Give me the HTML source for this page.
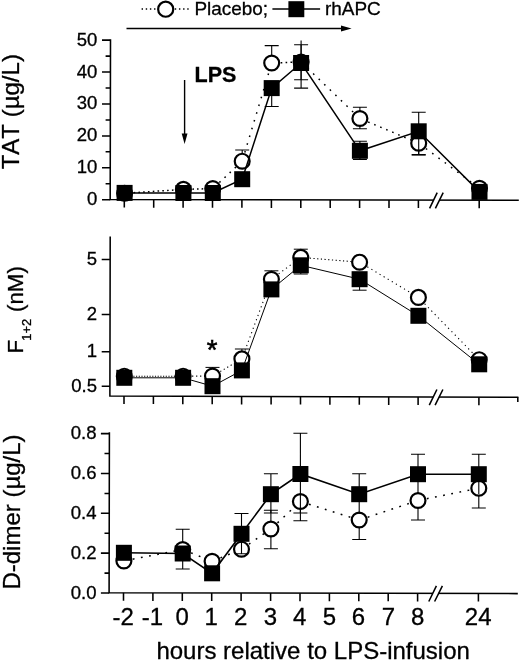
<!DOCTYPE html>
<html><head><meta charset="utf-8"><title>Figure</title>
<style>
html,body{margin:0;padding:0;background:#fff}
svg{display:block}
text{stroke:#000;stroke-width:0.3px;font-kerning:none;font-family:"Liberation Sans",Arial,Helvetica,sans-serif;fill:#000}
</style></head><body>
<svg width="520" height="661" viewBox="0 0 520 661">
<rect width="520" height="661" fill="#fff"/>
<path d="M110.5 39.3L110.2 199.6L518.8 200.3" fill="none" stroke="#000" stroke-width="1.55" stroke-linejoin="miter"/>
<rect x="433.6" y="198.2" width="5.6" height="4" fill="#fff"/>
<path d="M429.6 208.3L437.2 192.7M435.4 208.3L443.2 192.7" stroke="#000" stroke-width="1.55" fill="none"/>
<path d="M124.3 199.6v8M153.7 199.7v8M183.1 199.7v8M212.5 199.8v8M241.9 199.8v8M271.4 199.9v8M300.8 199.9v8M330.2 200.0v8M359.6 200.0v8M389.0 200.1v8M418.4 200.1v8M479.2 200.2v8M110.2 199.7h-8.2M110.2 167.8h-8.2M110.2 135.9h-8.2M110.2 103.9h-8.2M110.2 72.0h-8.2M110.2 40.1h-8.2M110.2 183.7h-4.6M110.2 151.8h-4.6M110.2 119.9h-4.6M110.2 88.0h-4.6M110.2 56.1h-4.6" stroke="#000" stroke-width="1.55" fill="none"/>
<text y="205.3" text-anchor="end" font-size="18.2" transform="translate(97.4 0) scale(1.02 1)">0</text>
<text y="173.4" text-anchor="end" font-size="18.2" transform="translate(97.4 0) scale(1.02 1)">10</text>
<text y="141.5" text-anchor="end" font-size="18.2" transform="translate(97.4 0) scale(1.02 1)">20</text>
<text y="109.5" text-anchor="end" font-size="18.2" transform="translate(97.4 0) scale(1.02 1)">30</text>
<text y="77.6" text-anchor="end" font-size="18.2" transform="translate(97.4 0) scale(1.02 1)">40</text>
<text y="45.7" text-anchor="end" font-size="18.2" transform="translate(97.4 0) scale(1.02 1)">50</text>
<path d="M242.2 150.0V161.2M235.2 150.0h14M271.7 45.6V63.0M264.7 45.6h14M301.1 40.5V88.1M294.1 88.1h14M359.9 107.2V128.8M352.9 107.2h14M352.9 128.8h14M418.7 143.2V155.0M411.7 155.0h14" stroke="#000" stroke-width="1.1" fill="none"/>
<path d="M124.6 193.3L183.4 189.4" fill="none" stroke="#000" stroke-width="1.5" stroke-dasharray="1.6 3.20" stroke-dashoffset="-9"/>
<path d="M183.4 189.4L212.8 188.6" fill="none" stroke="#000" stroke-width="1.5" stroke-dasharray="1.6 3.00" stroke-dashoffset="-9"/>
<path d="M212.8 188.6L242.2 161.2" fill="none" stroke="#000" stroke-width="1.5" stroke-dasharray="1.6 5.40" stroke-dashoffset="-9"/>
<path d="M242.2 161.2L271.7 63.0" fill="none" stroke="#000" stroke-width="1.5" stroke-dasharray="1.6 6.50" stroke-dashoffset="-9"/>
<path d="M271.7 63.0L301.1 62.0" fill="none" stroke="#000" stroke-width="1.5" stroke-dasharray="1.6 3.30" stroke-dashoffset="-9"/>
<path d="M301.1 62.0L359.9 118.5" fill="none" stroke="#000" stroke-width="1.5" stroke-dasharray="1.6 6.10" stroke-dashoffset="-9"/>
<path d="M359.9 118.5L418.7 143.2" fill="none" stroke="#000" stroke-width="1.5" stroke-dasharray="1.6 4.90" stroke-dashoffset="-9"/>
<path d="M418.7 143.2L479.5 188.3" fill="none" stroke="#000" stroke-width="1.5" stroke-dasharray="1.6 6.20" stroke-dashoffset="-9"/>
<circle cx="124.6" cy="193.3" r="7.45" fill="#fff" stroke="#000" stroke-width="2.2"/>
<circle cx="183.4" cy="189.4" r="7.45" fill="#fff" stroke="#000" stroke-width="2.2"/>
<circle cx="212.8" cy="188.6" r="7.45" fill="#fff" stroke="#000" stroke-width="2.2"/>
<circle cx="242.2" cy="161.2" r="7.45" fill="#fff" stroke="#000" stroke-width="2.2"/>
<circle cx="271.7" cy="63.0" r="7.45" fill="#fff" stroke="#000" stroke-width="2.2"/>
<circle cx="301.1" cy="62.0" r="7.45" fill="#fff" stroke="#000" stroke-width="2.2"/>
<circle cx="359.9" cy="118.5" r="7.45" fill="#fff" stroke="#000" stroke-width="2.2"/>
<circle cx="418.7" cy="143.2" r="7.45" fill="#fff" stroke="#000" stroke-width="2.2"/>
<circle cx="479.5" cy="188.3" r="7.45" fill="#fff" stroke="#000" stroke-width="2.2"/>
<path d="M271.7 88.1V106.5M264.7 106.5h14M301.1 44.8V79.8M294.1 44.8h14M294.1 79.8h14M359.9 141.3V159.5M352.9 141.3h14M352.9 159.5h14M418.7 112.2V154.6M411.7 112.2h14M411.7 154.6h14" stroke="#000" stroke-width="1.1" fill="none"/>
<polyline points="124.6,192.9 183.4,193.0 212.8,193.0 242.2,179.2 271.7,88.1 301.1,63.0 359.9,150.8 418.7,131.3 479.5,191.9" fill="none" stroke="#000" stroke-width="1.5"/>
<rect x="116.6" y="184.9" width="16" height="16" fill="#000"/>
<rect x="175.4" y="185.0" width="16" height="16" fill="#000"/>
<rect x="204.8" y="185.0" width="16" height="16" fill="#000"/>
<rect x="234.2" y="171.2" width="16" height="16" fill="#000"/>
<rect x="263.7" y="80.1" width="16" height="16" fill="#000"/>
<rect x="293.1" y="55.0" width="16" height="16" fill="#000"/>
<rect x="351.9" y="142.8" width="16" height="16" fill="#000"/>
<rect x="410.7" y="123.3" width="16" height="16" fill="#000"/>
<rect x="471.5" y="183.9" width="16" height="16" fill="#000"/>
<path d="M110.2 236.4L109.9 396.0L518.4 397.3" fill="none" stroke="#000" stroke-width="1.55" stroke-linejoin="miter"/>
<rect x="433.3" y="395.0" width="5.6" height="4" fill="#fff"/>
<path d="M429.3 405.1L436.9 389.5M435.1 405.1L442.9 389.5" stroke="#000" stroke-width="1.55" fill="none"/>
<path d="M124.0 396.0v8M153.4 396.1v8M182.8 396.2v8M212.2 396.3v8M241.6 396.4v8M271.1 396.5v8M300.5 396.6v8M329.9 396.7v8M359.3 396.8v8M388.7 396.9v8M418.1 397.0v8M478.9 397.2v8M517.8 397.3v4.8M109.9 259.4h-8.2M109.9 314.4h-8.2M109.9 351.7h-8.2M109.9 386.2h-8.2" stroke="#000" stroke-width="1.55" fill="none"/>
<text y="265.0" text-anchor="end" font-size="18.2" transform="translate(97.1 0) scale(1.02 1)">5</text>
<text y="320.0" text-anchor="end" font-size="18.2" transform="translate(97.1 0) scale(1.02 1)">2</text>
<text y="357.3" text-anchor="end" font-size="18.2" transform="translate(97.1 0) scale(1.02 1)">1</text>
<text y="391.8" text-anchor="end" font-size="18.2" transform="translate(97.1 0) scale(1.02 1)">0.5</text>
<path d="M212.5 367.4V376.0M205.5 367.4h14M241.9 349.0V358.9M234.9 349.0h14M271.4 270.8V279.3M264.4 270.8h14M300.8 249.2V257.4M293.8 249.2h14" stroke="#000" stroke-width="1" fill="none"/>
<path d="M124.3 376.2L183.1 376.2" fill="none" stroke="#000" stroke-width="1.1" stroke-dasharray="1.2 1.50" stroke-dashoffset="-9"/>
<path d="M183.1 376.2L212.5 376.0" fill="none" stroke="#000" stroke-width="1.1" stroke-dasharray="1.2 2.80" stroke-dashoffset="-9"/>
<path d="M212.5 376.0L241.9 358.9" fill="none" stroke="#000" stroke-width="1.1" stroke-dasharray="1.2 2.80" stroke-dashoffset="-9"/>
<path d="M241.9 358.9L271.4 279.3" fill="none" stroke="#000" stroke-width="1.1" stroke-dasharray="1.2 3.40" stroke-dashoffset="-9"/>
<path d="M271.4 279.3L300.8 257.4" fill="none" stroke="#000" stroke-width="1.1" stroke-dasharray="1.2 3.40" stroke-dashoffset="-9"/>
<path d="M300.8 257.4L359.6 262.2" fill="none" stroke="#000" stroke-width="1.1" stroke-dasharray="1.2 2.50" stroke-dashoffset="-9"/>
<path d="M359.6 262.2L418.4 297.4" fill="none" stroke="#000" stroke-width="1.1" stroke-dasharray="1.2 3.55" stroke-dashoffset="-9"/>
<path d="M418.4 297.4L479.2 359.7" fill="none" stroke="#000" stroke-width="1.1" stroke-dasharray="1.2 3.60" stroke-dashoffset="-9"/>
<circle cx="124.3" cy="376.2" r="7.45" fill="#fff" stroke="#000" stroke-width="2.2"/>
<circle cx="183.1" cy="376.2" r="7.45" fill="#fff" stroke="#000" stroke-width="2.2"/>
<circle cx="212.5" cy="376.0" r="7.45" fill="#fff" stroke="#000" stroke-width="2.2"/>
<circle cx="241.9" cy="358.9" r="7.45" fill="#fff" stroke="#000" stroke-width="2.2"/>
<circle cx="271.4" cy="279.3" r="7.45" fill="#fff" stroke="#000" stroke-width="2.2"/>
<circle cx="300.8" cy="257.4" r="7.45" fill="#fff" stroke="#000" stroke-width="2.2"/>
<circle cx="359.6" cy="262.2" r="7.45" fill="#fff" stroke="#000" stroke-width="2.2"/>
<circle cx="418.4" cy="297.4" r="7.45" fill="#fff" stroke="#000" stroke-width="2.2"/>
<circle cx="479.2" cy="359.7" r="7.45" fill="#fff" stroke="#000" stroke-width="2.2"/>
<path d="M300.8 265.3V274.0M293.8 274.0h14M359.6 279.2V290.2M352.6 290.2h14" stroke="#000" stroke-width="1" fill="none"/>
<polyline points="124.3,377.8 183.1,377.8 212.5,386.2 241.9,370.4 271.4,289.4 300.8,265.3 359.6,279.2 418.4,315.8 479.2,364.3" fill="none" stroke="#000" stroke-width="1"/>
<rect x="116.3" y="369.8" width="16" height="16" fill="#000"/>
<rect x="175.1" y="369.8" width="16" height="16" fill="#000"/>
<rect x="204.5" y="378.2" width="16" height="16" fill="#000"/>
<rect x="233.9" y="362.4" width="16" height="16" fill="#000"/>
<rect x="263.4" y="281.4" width="16" height="16" fill="#000"/>
<rect x="292.8" y="257.3" width="16" height="16" fill="#000"/>
<rect x="351.6" y="271.2" width="16" height="16" fill="#000"/>
<rect x="410.4" y="307.8" width="16" height="16" fill="#000"/>
<rect x="471.2" y="356.3" width="16" height="16" fill="#000"/>
<path d="M109.4 432.2L109.1 592.8L517.8 593.6" fill="none" stroke="#000" stroke-width="1.55" stroke-linejoin="miter"/>
<rect x="432.8" y="591.4" width="5.6" height="4" fill="#fff"/>
<path d="M428.8 601.5L436.4 585.9M434.6 601.5L442.4 585.9" stroke="#000" stroke-width="1.55" fill="none"/>
<path d="M123.5 592.8v8M152.9 592.9v8M182.3 592.9v8M211.7 593.0v8M241.1 593.1v8M270.6 593.1v8M300.0 593.2v8M329.4 593.2v8M358.8 593.3v8M388.2 593.3v8M417.6 593.4v8M478.4 593.5v8M109.1 593.0h-8.2M109.1 553.1h-8.2M109.1 513.3h-8.2M109.1 473.4h-8.2M109.1 433.6h-8.2M109.1 573.1h-4.6M109.1 533.2h-4.6M109.1 493.4h-4.6M109.1 453.5h-4.6" stroke="#000" stroke-width="1.55" fill="none"/>
<text y="598.6" text-anchor="end" font-size="18.2" transform="translate(96.6 0) scale(1.02 1)">0.0</text>
<text y="558.7" text-anchor="end" font-size="18.2" transform="translate(96.6 0) scale(1.02 1)">0.2</text>
<text y="518.9" text-anchor="end" font-size="18.2" transform="translate(96.6 0) scale(1.02 1)">0.4</text>
<text y="479.0" text-anchor="end" font-size="18.2" transform="translate(96.6 0) scale(1.02 1)">0.6</text>
<text y="439.2" text-anchor="end" font-size="18.2" transform="translate(96.6 0) scale(1.02 1)">0.8</text>
<path d="M182.7 529.2V569.0M175.7 529.2h14M175.7 569.0h14M270.9 510.2V548.8M263.9 510.2h14M263.9 548.8h14M300.4 501.5V520.8M293.4 520.8h14M359.2 520.0V539.5M352.2 539.5h14M418.0 500.5V520.0M411.0 520.0h14M478.8 488.2V508.0M471.8 508.0h14" stroke="#000" stroke-width="1.1" fill="none"/>
<path d="M123.9 560.9L182.7 549.5" fill="none" stroke="#000" stroke-width="1.5" stroke-dasharray="1.8 6.50" stroke-dashoffset="-9"/>
<path d="M182.7 549.5L212.1 561.3" fill="none" stroke="#000" stroke-width="1.5" stroke-dasharray="1.8 6.50" stroke-dashoffset="-9"/>
<path d="M212.1 561.3L241.5 549.2" fill="none" stroke="#000" stroke-width="1.5" stroke-dasharray="1.8 6.50" stroke-dashoffset="-9"/>
<path d="M241.5 549.2L270.9 529.0" fill="none" stroke="#000" stroke-width="1.5" stroke-dasharray="1.8 6.50" stroke-dashoffset="-9"/>
<path d="M270.9 529.0L300.4 501.5" fill="none" stroke="#000" stroke-width="1.5" stroke-dasharray="1.8 6.50" stroke-dashoffset="-9"/>
<path d="M300.4 501.5L359.2 520.0" fill="none" stroke="#000" stroke-width="1.5" stroke-dasharray="1.8 6.50" stroke-dashoffset="-9"/>
<path d="M359.2 520.0L418.0 500.5" fill="none" stroke="#000" stroke-width="1.5" stroke-dasharray="1.8 6.50" stroke-dashoffset="-9"/>
<path d="M418.0 500.5L478.8 488.2" fill="none" stroke="#000" stroke-width="1.5" stroke-dasharray="1.8 6.50" stroke-dashoffset="-9"/>
<circle cx="123.9" cy="560.9" r="7.45" fill="#fff" stroke="#000" stroke-width="2.2"/>
<circle cx="182.7" cy="549.5" r="7.45" fill="#fff" stroke="#000" stroke-width="2.2"/>
<circle cx="212.1" cy="561.3" r="7.45" fill="#fff" stroke="#000" stroke-width="2.2"/>
<circle cx="241.5" cy="549.2" r="7.45" fill="#fff" stroke="#000" stroke-width="2.2"/>
<circle cx="270.9" cy="529.0" r="7.45" fill="#fff" stroke="#000" stroke-width="2.2"/>
<circle cx="300.4" cy="501.5" r="7.45" fill="#fff" stroke="#000" stroke-width="2.2"/>
<circle cx="359.2" cy="520.0" r="7.45" fill="#fff" stroke="#000" stroke-width="2.2"/>
<circle cx="418.0" cy="500.5" r="7.45" fill="#fff" stroke="#000" stroke-width="2.2"/>
<circle cx="478.8" cy="488.2" r="7.45" fill="#fff" stroke="#000" stroke-width="2.2"/>
<path d="M241.5 513.5V553.8M234.5 513.5h14M234.5 553.8h14M270.9 473.7V513.0M263.9 473.7h14M263.9 513.0h14M300.4 433.2V513.0M293.4 433.2h14M293.4 513.0h14M359.2 473.7V514.0M352.2 473.7h14M418.0 454.2V494.0M411.0 454.2h14M478.8 454.2V494.0M471.8 454.2h14" stroke="#000" stroke-width="1.1" fill="none"/>
<polyline points="123.9,552.8 182.7,553.5 212.1,573.3 241.5,533.8 270.9,494.2 300.4,474.0 359.2,494.2 418.0,474.2 478.8,474.2" fill="none" stroke="#000" stroke-width="1.6"/>
<rect x="115.9" y="544.8" width="16" height="16" fill="#000"/>
<rect x="174.7" y="545.5" width="16" height="16" fill="#000"/>
<rect x="204.1" y="565.3" width="16" height="16" fill="#000"/>
<rect x="233.5" y="525.8" width="16" height="16" fill="#000"/>
<rect x="262.9" y="486.2" width="16" height="16" fill="#000"/>
<rect x="292.4" y="466.0" width="16" height="16" fill="#000"/>
<rect x="351.2" y="486.2" width="16" height="16" fill="#000"/>
<rect x="410.0" y="466.2" width="16" height="16" fill="#000"/>
<rect x="470.8" y="466.2" width="16" height="16" fill="#000"/>
<text x="123.1" y="624.8" font-size="24" text-anchor="middle">-2</text>
<text x="152.5" y="624.8" font-size="24" text-anchor="middle">-1</text>
<text x="182.1" y="624.8" font-size="24" text-anchor="middle">0</text>
<text x="211.3" y="624.8" font-size="24" text-anchor="middle">1</text>
<text x="240.8" y="624.8" font-size="24" text-anchor="middle">2</text>
<text x="270.5" y="624.8" font-size="24" text-anchor="middle">3</text>
<text x="299.8" y="624.8" font-size="24" text-anchor="middle">4</text>
<text x="329.5" y="624.8" font-size="24" text-anchor="middle">5</text>
<text x="358.5" y="624.8" font-size="24" text-anchor="middle">6</text>
<text x="388.5" y="624.8" font-size="24" text-anchor="middle">7</text>
<text x="417.7" y="624.8" font-size="24" text-anchor="middle">8</text>
<text x="478.2" y="624.8" font-size="24" text-anchor="middle">24</text>
<text x="156.4" y="658.6" font-size="24">hours relative to LPS-infusion</text>
<text font-size="24" transform="translate(18.8 169.3) rotate(-90)">TAT (µg/L)</text>
<text font-size="22.3" transform="translate(23.2 353.6) rotate(-90)">F<tspan font-size="13" x="12.8" y="7.7">1+2</tspan><tspan x="41.6" y="0">(nM)</tspan></text>
<text font-size="24" transform="translate(20.4 589.6) rotate(-90)">D-dimer (µg/L)</text>
<path d="M141.6 9H190" stroke="#000" stroke-width="1.5" stroke-dasharray="1.4 2.75" fill="none"/>
<circle cx="165.7" cy="9.2" r="7.55" fill="#fff" stroke="#000" stroke-width="2.2"/>
<text y="15.4" font-size="18.4" transform="translate(194.4 0) scale(1.03 1)">Placebo;</text>
<path d="M272.4 9H320.1" stroke="#000" stroke-width="1.5" fill="none"/>
<rect x="288.4" y="1.2" width="15.9" height="16" fill="#000"/>
<text y="15.4" font-size="18.4" transform="translate(325 0) scale(1.03 1)">rhAPC</text>
<path d="M126.5 28.5H343" stroke="#000" stroke-width="1.5" fill="none"/>
<path d="M351.6 28.5L341 25.4V31.6Z" fill="#000"/>
<text x="194.6" y="81.5" font-size="21.5" font-weight="bold">LPS</text>
<path d="M184.6 80V135" stroke="#000" stroke-width="1.4" fill="none"/>
<path d="M184.6 144L181.7 133.6H187.5Z" fill="#000"/>
<text x="212.1" y="358.6" font-size="27.5" text-anchor="middle" style="stroke-width:0.6px">*</text>
</svg>
</body></html>
